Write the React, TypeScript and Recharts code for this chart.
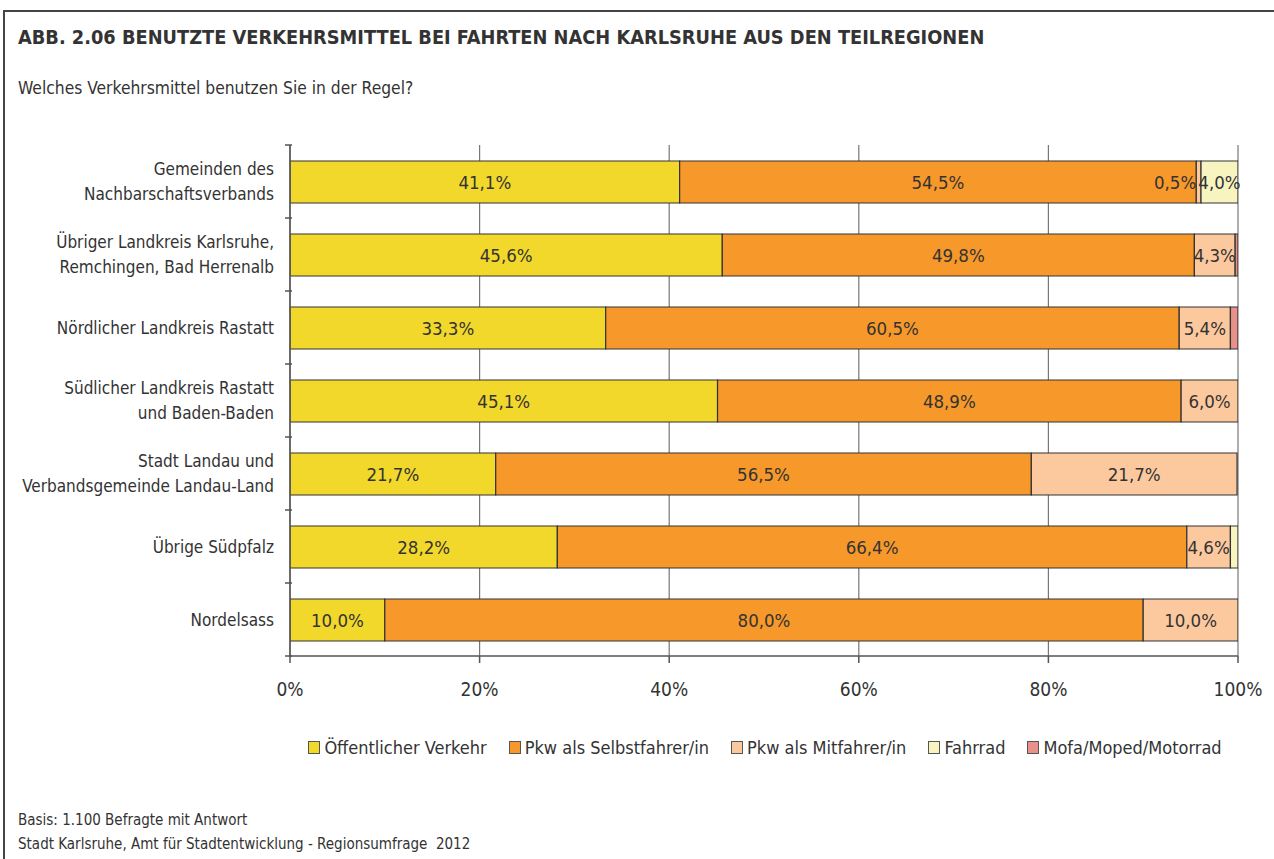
import React from 'react';
import { BarChart, Bar, XAxis, YAxis, CartesianGrid, LabelList } from 'recharts';

const categories = [
  'Gemeinden des\nNachbarschaftsverbands',
  'Übriger Landkreis Karlsruhe,\nRemchingen, Bad Herrenalb',
  'Nördlicher Landkreis Rastatt',
  'Südlicher Landkreis Rastatt\nund Baden-Baden',
  'Stadt Landau und\nVerbandsgemeinde Landau-Land',
  'Übrige Südpfalz',
  'Nordelsass',
];
const oeffentlich = [41.1, 45.6, 33.3, 45.1, 21.7, 28.2, 10.0];
const selbstfahrer = [54.5, 49.8, 60.5, 48.9, 56.5, 66.4, 80.0];
const mitfahrer = [0.5, 4.3, 5.4, 6.0, 21.7, 4.6, 10.0];
const fahrrad = [4.0, 0, 0, 0, 0, 0.8, 0];
const mofa = [0, 0.3, 0.8, 0, 0, 0, 0];
const xTicks = [0, 20, 40, 60, 80, 100];

const series = [
  { key: 'oeffentlich', name: 'Öffentlicher Verkehr', color: '#F2D82A', minLabel: 1 },
  { key: 'selbstfahrer', name: 'Pkw als Selbstfahrer/in', color: '#F7982A', minLabel: 1 },
  { key: 'mitfahrer', name: 'Pkw als Mitfahrer/in', color: '#FCC89E', minLabel: 0 },
  { key: 'fahrrad', name: 'Fahrrad', color: '#F8F4C0', minLabel: 1 },
  { key: 'mofa', name: 'Mofa/Moped/Motorrad', color: '#E8908A', minLabel: 1 },
];

const data = categories.map((c, i) => ({
  cat: c,
  oeffentlich: oeffentlich[i],
  selbstfahrer: selbstfahrer[i],
  mitfahrer: mitfahrer[i],
  fahrrad: fahrrad[i],
  mofa: mofa[i],
}));

const FONT = '"Liberation Sans Narrow", "DejaVu Sans Condensed", "Open Sans", sans-serif';
const TXT = '#333';

const CHART_W = 1274;
const CHART_H = 859;
const M_TOP = 145;
const M_BOTTOM = 163;
const X_AXIS_H = 40;
const PLOT_H = CHART_H - M_TOP - M_BOTTOM - X_AXIS_H;
const HALF_BAND = PLOT_H / categories.length / 2;

const fmt = (v: number) => v.toFixed(1).replace('.', ',') + '%';

const makeLabel = (minLabel: number) => (props: any) => {
  const { x, y, width, height, value } = props;
  if (!value || value <= 0 || value < minLabel) return null;
  const small = value < 1;
  return (
    <text
      x={small ? x : x + width / 2}
      y={y + height / 2}
      textAnchor={small ? 'end' : 'middle'}
      dominantBaseline="central"
      fontSize={18.5}
      fontFamily={FONT}
      fill={TXT}
    >
      {fmt(value)}
    </text>
  );
};

const YTick = (props: any) => {
  const { x, y, payload, index } = props;
  const lines = String(payload.value).split('\n');
  const lh = 25;
  const start = y - ((lines.length - 1) * lh) / 2;
  return (
    <g>
      <line x1={x + 3} x2={x + 10} y1={y - HALF_BAND} y2={y - HALF_BAND} stroke="#555" strokeWidth={1.5} />
      {index === categories.length - 1 && (
        <line x1={x + 3} x2={x + 10} y1={y + HALF_BAND} y2={y + HALF_BAND} stroke="#555" strokeWidth={1.5} />
      )}
      {lines.map((l, i) => (
        <text
          key={i}
          x={x - 8}
          y={start + i * lh}
          textAnchor="end"
          dominantBaseline="central"
          fontSize={17}
          fontFamily={FONT}
          fill={TXT}
        >
          {l}
        </text>
      ))}
    </g>
  );
};

export default function App() {
  return (
    <div style={{ position: 'absolute', left: 0, top: 0, width: 1274, height: 859, background: '#fff', fontFamily: FONT, color: TXT, overflow: 'hidden' }}>
      <div style={{ position: 'absolute', left: 3, top: 10, width: 1280, height: 860, borderTop: '2px solid #444', borderLeft: '2px solid #444' }} />
      <div style={{ position: 'absolute', left: 18, top: 26, fontSize: 19.8, fontWeight: 'bold', whiteSpace: 'nowrap' }}>
        ABB. 2.06 BENUTZTE VERKEHRSMITTEL BEI FAHRTEN NACH KARLSRUHE AUS DEN TEILREGIONEN
      </div>
      <div style={{ position: 'absolute', left: 18, top: 78, fontSize: 17.3, whiteSpace: 'nowrap' }}>
        Welches Verkehrsmittel benutzen Sie in der Regel?
      </div>
      <div style={{ position: 'absolute', left: 0, top: 0 }}>
        <BarChart
          width={CHART_W}
          height={CHART_H}
          data={data}
          layout="vertical"
          margin={{ top: M_TOP, right: 36, bottom: M_BOTTOM, left: 10 }}
          barSize={42}
        >
          <CartesianGrid horizontal={false} vertical={true} stroke="#777" strokeWidth={1.2} />
          <XAxis
            type="number"
            domain={[0, 100]}
            ticks={xTicks}
            allowDataOverflow
            height={X_AXIS_H}
            tickFormatter={(v: number) => v + '%'}
            axisLine={{ stroke: '#555', strokeWidth: 1.5 }}
            tickLine={{ stroke: '#555', strokeWidth: 1.5 }}
            tickSize={7}
            tick={{ fontSize: 19, fontFamily: FONT, fill: TXT, dy: 18 }}
          />
          <XAxis
            xAxisId="top"
            orientation="top"
            type="number"
            domain={[0, 100]}
            ticks={xTicks}
            height={0}
            tick={false}
            tickLine={false}
            axisLine={{ stroke: '#777', strokeWidth: 1.2 }}
          />
          <YAxis
            type="category"
            dataKey="cat"
            width={280}
            axisLine={{ stroke: '#555', strokeWidth: 1.5 }}
            tickLine={false}
            tick={<YTick />}
            interval={0}
          />
          {series.map((s) => (
            <Bar
              key={s.key}
              dataKey={s.key}
              name={s.name}
              stackId="a"
              fill={s.color}
              stroke="#333"
              strokeWidth={1.2}
              isAnimationActive={false}
            >
              <LabelList dataKey={s.key} content={makeLabel(s.minLabel)} />
            </Bar>
          ))}
        </BarChart>
      </div>
      <div style={{ position: 'absolute', left: 0, width: 1274, top: 737, display: 'flex', justifyContent: 'center', paddingLeft: 256, boxSizing: 'border-box' }}>
        <div style={{ display: 'flex', gap: 22, fontSize: 18 }}>
          {series.map((s) => (
            <div key={s.key} style={{ display: 'flex', alignItems: 'center', whiteSpace: 'nowrap' }}>
              <span style={{ display: 'inline-block', width: 10, height: 11, background: s.color, border: '1px solid #555', marginRight: 4 }} />
              {s.name}
            </div>
          ))}
        </div>
      </div>
      <div style={{ position: 'absolute', left: 18, top: 808, fontSize: 15, whiteSpace: 'nowrap', lineHeight: '24px' }}>
        <div>Basis: 1.100 Befragte mit Antwort</div>
        <div>Stadt Karlsruhe, Amt für Stadtentwicklung - Regionsumfrage&nbsp;&nbsp;2012</div>
      </div>
    </div>
  );
}
